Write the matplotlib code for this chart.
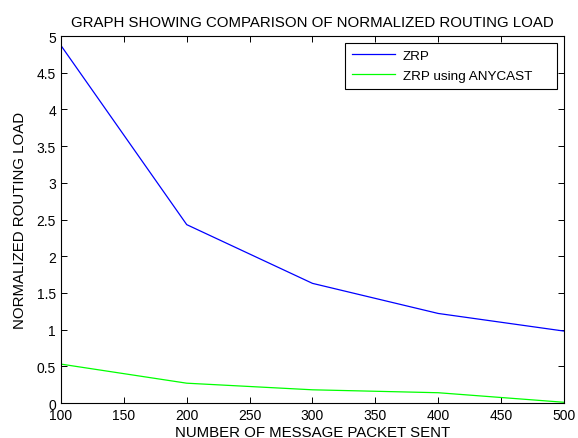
import matplotlib
matplotlib.use("Agg")
import matplotlib.pyplot as plt

# data
packets = [100, 200, 300, 400, 500]
zrp = [4.87, 2.43, 1.63, 1.22, 0.98]
zrp_anycast = [0.53, 0.27, 0.18, 0.14, 0.01]

plt.rcParams['font.family'] = ['Liberation Sans', 'DejaVu Sans']

fig = plt.figure(figsize=(5.78, 4.39), dpi=100)
ax = fig.add_axes([0.1055, 0.0797, 0.8703, 0.836])

ax.plot(packets, zrp, color='#0000ff', linewidth=0.9, label='ZRP')
ax.plot(packets, zrp_anycast, color='#00ff00', linewidth=0.9, label='ZRP using ANYCAST')

ax.set_xlim(100, 500)
ax.set_ylim(0, 5)
ax.set_xticks(range(100, 501, 50))
ax.set_yticks([0, 0.5, 1, 1.5, 2, 2.5, 3, 3.5, 4, 4.5, 5])
ax.set_yticklabels(['0', '0.5', '1', '1.5', '2', '2.5', '3', '3.5', '4', '4.5', '5'])
ax.tick_params(direction='in', top=True, right=True, labelsize=10, length=4, width=0.7)
for s in ax.spines.values():
    s.set_linewidth(0.8)

ax.set_title('GRAPH SHOWING COMPARISON OF NORMALIZED ROUTING LOAD', fontsize=10.8, pad=7)
ax.set_xlabel('NUMBER OF MESSAGE PACKET SENT', fontsize=10.8, labelpad=2)
ax.set_ylabel('NORMALIZED ROUTING LOAD', fontsize=10.8, labelpad=7)

# legend box stretched to the reference frame width
leg = ax.legend(loc='upper left', bbox_to_anchor=(0.5646, 0.981, 0.4215, 0), mode='expand',
                fontsize=9.7, fancybox=False, framealpha=1, edgecolor='black',
                borderaxespad=0, handlelength=3.2, handletextpad=0.6,
                borderpad=0.5, labelspacing=0.55)
leg.get_frame().set_linewidth(0.8)

fig.savefig('out.png', dpi=100)
